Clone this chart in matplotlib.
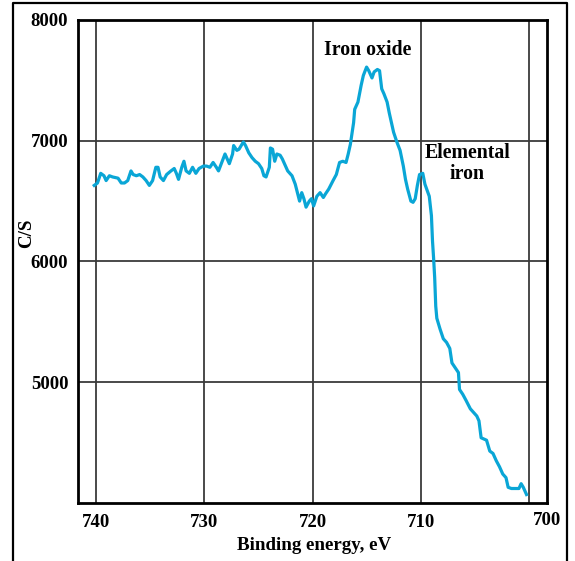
import matplotlib
matplotlib.use("Agg")
import matplotlib.pyplot as plt
from matplotlib.lines import Line2D

# binding energy (eV) and counts per second
energy = [740.2, 739.9, 739.6, 739.3, 739.1, 738.8, 738.5, 738.0, 737.7, 737.4,
          737.1, 736.8, 736.6, 736.3, 736.0, 735.7, 735.4, 735.1, 734.8, 734.5,
          734.3, 734.1, 733.8, 733.5, 733.1, 732.8, 732.6, 732.4, 732.1, 731.9,
          731.7, 731.4, 731.1, 730.8, 730.5, 730.1, 729.8, 729.5, 729.2, 728.9,
          728.7, 728.4, 728.1, 727.9, 727.7, 727.4, 727.3, 727.0, 726.8, 726.6,
          726.4, 726.2, 725.9, 725.6, 725.3, 725.0, 724.7, 724.5, 724.3, 724.0,
          723.9, 723.7, 723.5, 723.3, 723.0, 722.8, 722.6, 722.3, 721.9, 721.6,
          721.4, 721.2, 721.0, 720.8, 720.6, 720.3, 720.1, 719.9, 719.6, 719.3,
          719.0, 718.8, 718.5, 718.1, 717.8, 717.5, 717.2, 716.9, 716.7, 716.5,
          716.2, 716.1, 715.8, 715.5, 715.3, 715.0, 714.8, 714.5, 714.3, 714.0,
          713.8, 713.6, 713.4, 713.1, 712.9, 712.7, 712.5, 712.2, 711.9, 711.6,
          711.4, 711.2, 710.9, 710.7, 710.5, 710.3, 710.1, 709.8, 709.6, 709.2,
          709.0, 708.9, 708.8, 708.7, 708.6, 708.5, 708.2, 707.9, 707.6, 707.3,
          707.1, 706.8, 706.5, 706.4, 706.1, 705.8, 705.4, 705.1, 704.8, 704.6,
          704.4, 703.9, 703.6, 703.3, 703.0, 702.7, 702.4, 702.1, 701.9, 701.6,
          701.1, 700.9, 700.7, 700.5, 700.2]
counts = [6630, 6650, 6730, 6710, 6670, 6710, 6700, 6690, 6650, 6650,
          6670, 6750, 6720, 6710, 6720, 6700, 6670, 6630, 6670, 6780,
          6780, 6700, 6670, 6720, 6750, 6770, 6730, 6680, 6780, 6830,
          6750, 6730, 6780, 6730, 6770, 6790, 6790, 6780, 6820, 6780,
          6750, 6820, 6890, 6850, 6810, 6890, 6960, 6920, 6930, 6960,
          6990, 6960, 6900, 6860, 6830, 6810, 6770, 6710, 6700, 6780,
          6940, 6930, 6830, 6890, 6880, 6850, 6810, 6750, 6710, 6640,
          6570, 6500, 6570, 6520, 6450, 6500, 6520, 6460, 6540, 6570,
          6530, 6560, 6600, 6670, 6720, 6820, 6830, 6820, 6890, 6970,
          7150, 7260, 7320, 7460, 7540, 7610, 7580, 7520, 7570, 7590,
          7580, 7430, 7390, 7320, 7230, 7150, 7070, 6990, 6920, 6790,
          6680, 6600, 6500, 6490, 6520, 6630, 6720, 6730, 6640, 6540,
          6380, 6170, 6030, 5870, 5630, 5530, 5440, 5360, 5330, 5280,
          5160, 5120, 5080, 4940, 4900, 4850, 4780, 4750, 4720, 4680,
          4540, 4520, 4430, 4410, 4350, 4300, 4240, 4210, 4130, 4120,
          4120, 4120, 4160, 4130, 4070]

xticks = [740, 730, 720, 710, 700]
yticks = [5000, 6000, 7000, 8000]

fnt = dict(family="Liberation Serif", weight="bold")

fig = plt.figure(figsize=(5.75, 5.61), dpi=100)
ax = fig.add_axes([0.1357, 0.1034, 0.8157, 0.861])

for x in xticks:
    ax.axvline(x, color="#3a3a3a", lw=1.3, zorder=1)
for y in yticks[:-1]:
    ax.axhline(y, color="#3a3a3a", lw=1.3, zorder=1)

ax.plot(energy, counts, color="#0aa6d6", lw=2.3, zorder=3)

ax.set_xlim(741.7, 698.3)
ax.set_ylim(4000, 8000)
ax.set_xticks(xticks)
ax.set_xticklabels(["740", "730", "720", "710", ""])
ax.set_yticks(yticks)
ax.tick_params(length=0, labelsize=13.5)
ax.tick_params(axis="x", pad=8)
ax.tick_params(axis="y", pad=7)
for lab in ax.get_xticklabels() + ax.get_yticklabels():
    lab.set_fontfamily("Liberation Serif")
    lab.set_fontweight("bold")
# the 700 label sits under the right frame edge
ax.text(1.0, -0.0355, "700", transform=ax.transAxes, ha="center", va="center",
        fontsize=13.5, **fnt)

for s in ax.spines.values():
    s.set_linewidth(2)
    s.set_color("black")

ax.text(714.9, 7755, "Iron oxide", ha="center", va="center", fontsize=14.3, **fnt)
ax.text(705.7, 6810, "Elemental\niron", ha="center", va="center", fontsize=14.3,
        linespacing=1.1, **fnt)

fig.text(314.5 / 575, 1 - 545 / 561, "Binding energy, eV", ha="center", va="center",
         fontsize=13.7, **fnt)
fig.text(27 / 575, 1 - 233 / 561, "C/S", ha="center", va="center", rotation=90,
         fontsize=13.7, **fnt)

# outer frame, open at the bottom
fig.add_artist(Line2D([13 / 575, 13 / 575, 567 / 575, 567 / 575],
                      [0, 1 - 3 / 561, 1 - 3 / 561, 0], color="black", lw=1.6))

fig.savefig("out.png", dpi=100)
